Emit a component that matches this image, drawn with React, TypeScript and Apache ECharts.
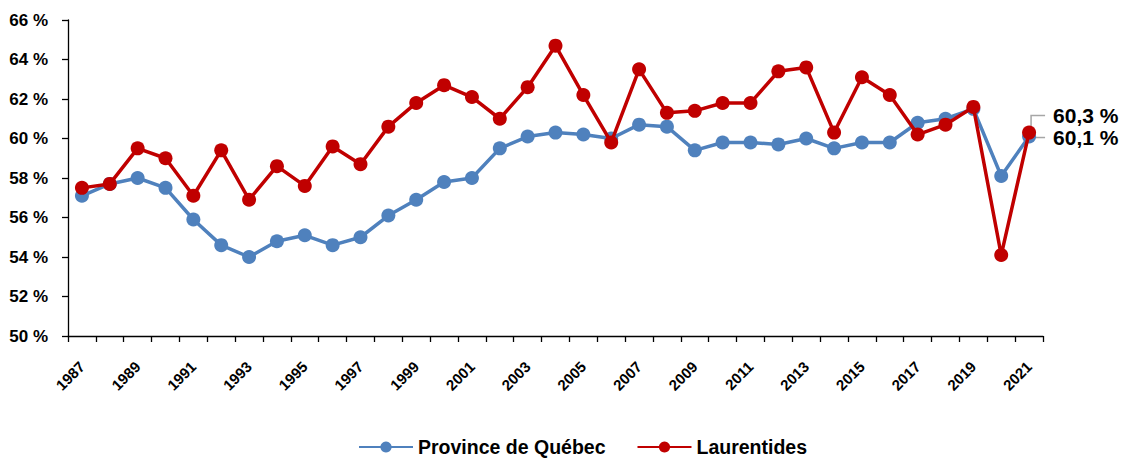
import React, { useEffect, useRef } from "react";
import * as echarts from "echarts";

const years = [
  "1987","1988","1989","1990","1991","1992","1993","1994","1995","1996",
  "1997","1998","1999","2000","2001","2002","2003","2004","2005","2006",
  "2007","2008","2009","2010","2011","2012","2013","2014","2015","2016",
  "2017","2018","2019","2020","2021",
];
const quebec = [
  57.1, 57.7, 58.0, 57.5, 55.9, 54.6, 54.0, 54.8, 55.1, 54.6,
  55.0, 56.1, 56.9, 57.8, 58.0, 59.5, 60.1, 60.3, 60.2, 60.0,
  60.7, 60.6, 59.4, 59.8, 59.8, 59.7, 60.0, 59.5, 59.8, 59.8,
  60.8, 61.0, 61.5, 58.1, 60.1,
];
const laurentides = [
  57.5, 57.7, 59.5, 59.0, 57.1, 59.4, 56.9, 58.6, 57.6, 59.6,
  58.7, 60.6, 61.8, 62.7, 62.1, 61.0, 62.6, 64.7, 62.2, 59.8,
  63.5, 61.3, 61.4, 61.8, 61.8, 63.4, 63.6, 60.3, 63.1, 62.2,
  60.2, 60.7, 61.6, 54.1, 60.3,
];
const seriesNames = ["Province de Québec", "Laurentides"];
const colors = ["#4F81BD", "#C00000"];

const FONT = "'Liberation Sans', Arial, Helvetica, sans-serif";

const fmt = (v: number) => v.toFixed(1).replace(".", ",") + " %";

export default function App() {
  const ref = useRef<HTMLDivElement>(null);
  useEffect(() => {
    if (!ref.current) return;
    const chart = echarts.init(ref.current, null, { renderer: "svg" });
    const last = years.length - 1;
    const mkData = (arr: number[], dy: number) =>
      arr.map((v, i) =>
        i === last
          ? {
              value: v,
              label: {
                show: true,
                position: "right",
                offset: [12, dy],
                formatter: (p: any) => fmt(p.value),
                fontFamily: FONT,
                fontWeight: "bold",
                fontSize: 21,
                color: "#000",
              },
            }
          : v
      );
    chart.setOption({
      animation: false,
      grid: { left: 68, right: 82, top: 20, bottom: 123, containLabel: false },
      legend: {
        left: 358,
        top: 437,
        padding: 0,
        itemWidth: 54,
        itemHeight: 14,
        itemGap: 31,
        textStyle: { fontFamily: FONT, fontWeight: "bold", fontSize: 19.5, color: "#000" },
        data: seriesNames,
      },
      xAxis: {
        type: "category",
        data: years,
        boundaryGap: true,
        axisLine: { lineStyle: { color: "#000", width: 1.3 } },
        axisTick: { show: true, interval: 0, length: 6, lineStyle: { color: "#000", width: 1.3 } },
        axisLabel: {
          interval: 1,
          rotate: 45,
          margin: 28,
          fontFamily: FONT,
          fontWeight: "bold",
          fontSize: 15,
          color: "#000",
        },
      },
      yAxis: {
        type: "value",
        min: 50,
        max: 66,
        interval: 2,
        splitLine: { show: false },
        axisLine: { show: true, lineStyle: { color: "#000", width: 1.3 } },
        axisTick: { show: true, length: 6, lineStyle: { color: "#000", width: 1.3 } },
        axisLabel: {
          formatter: "{value} %",
          margin: 20,
          fontFamily: FONT,
          fontWeight: "bold",
          fontSize: 17,
          color: "#000",
        },
      },
      series: [
        {
          name: seriesNames[0],
          type: "line",
          data: mkData(quebec, 1),
          symbol: "circle",
          symbolSize: 14,
          itemStyle: { color: colors[0] },
          lineStyle: { color: colors[0], width: 3.5 },
          z: 2,
        },
        {
          name: seriesNames[1],
          type: "line",
          data: mkData(laurentides, -17),
          symbol: "circle",
          symbolSize: 14,
          itemStyle: { color: colors[1] },
          lineStyle: { color: colors[1], width: 3.5 },
          z: 3,
        },
      ],
    });
    // leader lines from the last points to their labels
    const pR = chart.convertToPixel({ seriesIndex: 1 }, [last, laurentides[last]]) as number[];
    const pQ = chart.convertToPixel({ seriesIndex: 0 }, [last, quebec[last]]) as number[];
    chart.setOption({
      graphic: [
        {
          type: "polyline",
          silent: true,
          z: 1,
          shape: { points: [[pR[0] + 2, pR[1]], [pR[0] + 2, pR[1] - 17], [pR[0] + 16, pR[1] - 17]] },
          style: { stroke: "#A6A6A6", lineWidth: 1.5, fill: "none" },
        },
        {
          type: "polyline",
          silent: true,
          z: 1,
          shape: { points: [[pQ[0] + 2, pQ[1] + 1], [pQ[0] + 16, pQ[1] + 1]] },
          style: { stroke: "#A6A6A6", lineWidth: 1.5, fill: "none" },
        },
      ],
    });
    return () => chart.dispose();
  }, []);
  return (
    <div
      ref={ref}
      style={{ position: "fixed", left: 0, top: 0, width: 1125, height: 459, background: "#fff" }}
    />
  );
}
